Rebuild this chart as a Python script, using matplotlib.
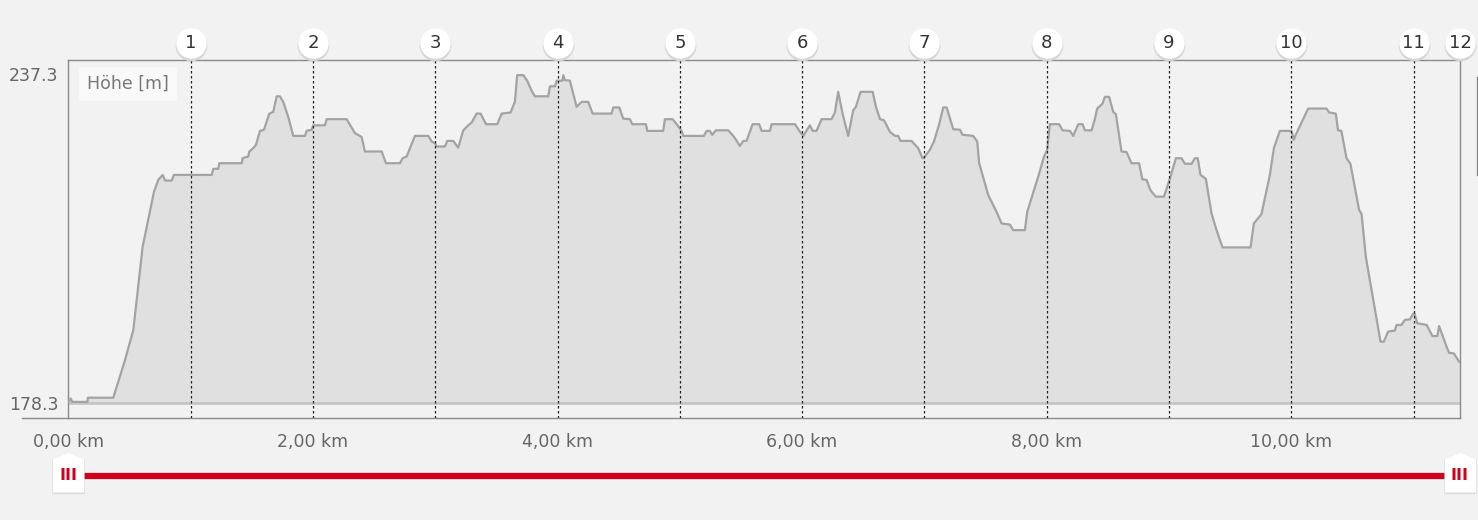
import numpy as np
import matplotlib
matplotlib.use("Agg")
import matplotlib.pyplot as plt
from matplotlib.path import Path
from matplotlib.lines import Line2D

# ── Elevation profile (distance in km, elevation in m) ─────────────────────────
dist_km = [
    0.00, 0.02, 0.03, 0.155, 0.16, 0.367, 0.463, 0.531, 0.607, 0.700, 0.735, 0.771,
    0.790, 0.845, 0.863, 1.172, 1.185, 1.226, 1.234, 1.417, 1.425, 1.471, 1.479,
    1.512, 1.534, 1.567, 1.599, 1.643, 1.675, 1.703, 1.730, 1.757, 1.798, 1.839,
    1.935, 1.948, 1.989, 2.003, 2.098, 2.112, 2.275, 2.343, 2.398, 2.425, 2.562,
    2.597, 2.711, 2.733, 2.766, 2.834, 2.943, 2.971, 2.998, 3.011, 3.079, 3.098,
    3.147, 3.188, 3.229, 3.270, 3.298, 3.338, 3.371, 3.415, 3.507, 3.543, 3.616,
    3.651, 3.670, 3.720, 3.752, 3.788, 3.815, 3.924, 3.938, 3.979, 3.993, 4.040,
    4.047, 4.060, 4.101, 4.156, 4.197, 4.251, 4.287, 4.442, 4.456, 4.505, 4.537,
    4.592, 4.611, 4.723, 4.734, 4.864, 4.878, 4.941, 4.974, 5.014, 5.028, 5.197,
    5.219, 5.245, 5.265, 5.295, 5.396, 5.437, 5.459, 5.491, 5.519, 5.546, 5.595,
    5.649, 5.669, 5.737, 5.751, 5.942, 5.977, 6.010, 6.037, 6.064, 6.086, 6.118,
    6.159, 6.241, 6.268, 6.295, 6.331, 6.377, 6.418, 6.440, 6.478, 6.577, 6.604,
    6.637, 6.670, 6.719, 6.760, 6.786, 6.805, 6.895, 6.949, 6.985, 7.004, 7.045,
    7.078, 7.121, 7.154, 7.182, 7.236, 7.291, 7.312, 7.399, 7.432, 7.448, 7.522,
    7.590, 7.631, 7.699, 7.726, 7.822, 7.841, 7.931, 7.977, 8.004, 8.026, 8.102,
    8.130, 8.190, 8.217, 8.258, 8.294, 8.312, 8.367, 8.394, 8.413, 8.457, 8.476,
    8.511, 8.544, 8.566, 8.612, 8.653, 8.694, 8.756, 8.783, 8.817, 8.850, 8.893,
    8.959, 9.013, 9.057, 9.103, 9.130, 9.185, 9.212, 9.235, 9.258, 9.302, 9.348,
    9.389, 9.438, 9.667, 9.694, 9.757, 9.825, 9.858, 9.907, 10.002, 10.021,
    10.035, 10.138, 10.288, 10.310, 10.364, 10.383, 10.410, 10.452, 10.484,
    10.555, 10.575, 10.610, 10.730, 10.757, 10.792, 10.847, 10.861, 10.902,
    10.929, 10.970, 10.997, 11.010, 11.030, 11.107, 11.155, 11.195, 11.209,
    11.270, 11.291, 11.330, 11.373,
]
elev_m = [
    178.5, 179.1, 178.5, 178.5, 179.25, 179.25, 186.0, 191.4, 206.3, 216.2, 218.3,
    219.2, 218.2, 218.2, 219.2, 219.2, 220.3, 220.3, 221.3, 221.3, 222.2, 222.5,
    223.4, 224.0, 224.6, 227.1, 227.3, 230.2, 230.5, 233.3, 233.3, 232.3, 229.6,
    226.2, 226.2, 227.1, 227.3, 228.1, 228.1, 229.2, 229.2, 226.7, 226.0, 223.4,
    223.4, 221.3, 221.3, 222.2, 222.5, 226.2, 226.2, 225.2, 224.9, 224.3, 224.3,
    225.3, 225.3, 224.1, 227.2, 228.1, 228.6, 230.2, 230.2, 228.3, 228.3, 230.2,
    230.4, 232.3, 237.1, 237.1, 236.1, 234.3, 233.3, 233.3, 235.1, 235.1, 236.1,
    236.1, 237.1, 236.2, 236.1, 231.4, 232.3, 232.3, 230.2, 230.2, 231.3, 231.3,
    229.3, 229.2, 228.3, 228.3, 227.1, 227.1, 229.2, 229.2, 228.3, 227.1, 226.2,
    226.2, 227.1, 227.1, 226.4, 227.2, 227.2, 226.2, 225.5, 224.4, 225.3, 225.3,
    228.3, 228.3, 227.1, 227.1, 228.3, 228.3, 227.1, 226.2, 227.2, 228.1, 227.1,
    227.1, 229.2, 229.2, 230.4, 234.1, 230.2, 226.2, 230.8, 231.4, 234.1, 234.1,
    231.4, 229.2, 229.0, 226.9, 226.2, 226.2, 225.3, 225.3, 224.0, 222.2, 222.5,
    223.7, 225.2, 228.3, 231.3, 231.3, 227.4, 227.3, 226.4, 226.2, 225.2, 221.3,
    215.6, 212.6, 210.5, 210.3, 209.3, 209.3, 212.6, 218.9, 222.4, 223.7, 228.3,
    228.3, 227.2, 227.1, 226.2, 228.3, 228.3, 227.2, 227.2, 229.2, 231.1, 232.0,
    233.2, 233.2, 230.5, 230.1, 223.4, 223.3, 221.3, 221.3, 218.4, 218.3, 216.4,
    215.3, 215.3, 218.9, 222.2, 222.2, 221.2, 221.2, 222.2, 222.2, 219.2, 218.5,
    212.3, 209.3, 206.2, 206.2, 210.5, 212.2, 219.2, 224.0, 227.1, 227.1, 225.5,
    226.3, 231.1, 231.1, 230.4, 230.2, 227.2, 227.1, 222.2, 221.2, 212.9, 212.2,
    204.5, 189.3, 189.3, 191.1, 191.3, 192.3, 192.3, 193.2, 193.3, 194.3, 194.3,
    192.6, 192.3, 190.3, 190.3, 192.1, 188.4, 187.3, 187.2, 185.7,
]

total_km = 11.38
y_min, y_max = 178.3, 237.3
marker_km = [1, 2, 3, 4, 5, 6, 7, 8, 9, 10, 11, total_km]
marker_labels = [str(i) for i in range(1, 13)]
xtick_km = [0, 2, 4, 6, 8, 10]
xtick_labels = ["0,00 km", "2,00 km", "4,00 km", "6,00 km", "8,00 km", "10,00 km"]

# ── Figure ───────────────────────────────────────────────────────────────────
W, H = 1478, 520
bg = "#f2f2f2"
fig = plt.figure(figsize=(W / 100, H / 100), dpi=100, facecolor=bg)

ax_l, ax_r, ax_t, ax_b = 68.4, 1460, 60, 418
ax = fig.add_axes([ax_l / W, 1 - ax_b / H, (ax_r - ax_l) / W, (ax_b - ax_t) / H])
ax.set_facecolor(bg)

# pixel 403 -> 178.3 m, pixel 74 -> 237.3 m
m_per_px = (y_max - y_min) / (403 - 74)
ax.set_ylim(y_min - (ax_b - 403) * m_per_px, y_min + (403 - ax_t) * m_per_px)
ax.set_xlim(0, total_km)

ax.fill_between(dist_km, elev_m, y_min, color="#e0e0e0", lw=0, zorder=1)
ax.plot(dist_km, elev_m, color="#a3a3a3", lw=1.6, zorder=3)
ax.axhline(y_min, color="#c6c6c6", lw=2, zorder=2)

for km in marker_km[:-1]:
    ax.axvline(km, color="#222222", lw=0.9, ls=(0, (2, 2)), zorder=4)

for side in ["left", "top", "right", "bottom"]:
    ax.spines[side].set_color("#8a8a8a")
    ax.spines[side].set_linewidth(1)

ax.set_yticks([y_min, y_max])
ax.set_yticklabels([f"{y_min:.1f}", f"{y_max:.1f}"])
ax.set_xticks(xtick_km)
ax.set_xticklabels(xtick_labels)
ax.tick_params(axis="both", length=0, colors="#666666", labelsize=12.5)
ax.tick_params(axis="y", pad=7)
ax.tick_params(axis="x", pad=11)

# bottom axis line extends left beyond the plot area
fig.add_artist(Line2D([22 / W, ax_l / W], [1 - ax_b / H, 1 - ax_b / H],
                      color="#8a8a8a", lw=1))

ax.text(0.0135, 0.958, "Höhe [m]", transform=ax.transAxes, ha="left", va="top",
        fontsize=12.5, color="#777777", zorder=6,
        bbox=dict(boxstyle="square,pad=0.45", fc="#f9f9f9", ec="none"))

# numbered km markers above the plot
trans = ax.get_xaxis_transform()
y_circ = (ax_b - 43) / (ax_b - ax_t)
ax.scatter(marker_km, [y_circ - 0.006] * len(marker_km), s=520, color="#d6d6d6",
           transform=trans, clip_on=False, zorder=7, lw=0)
ax.scatter(marker_km, [y_circ] * len(marker_km), s=480, color="white",
           transform=trans, clip_on=False, zorder=8, lw=0)
for km, lab in zip(marker_km, marker_labels):
    ax.text(km, y_circ, lab, transform=trans, ha="center", va="center",
            fontsize=13, color="#333333", clip_on=False, zorder=9)

# ── Range slider below the chart ─────────────────────────────────────────────
sl = fig.add_axes([ax_l / W, 1 - 500 / H, (ax_r - ax_l) / W, 50 / H])
sl.set_xlim(0, total_km)
sl.set_ylim(-1, 1)
sl.axis("off")
y_line = 1 - 2 * (476 - 450) / 50
sl.plot([0, total_km], [y_line, y_line], color="#d0021b", lw=4.5,
        solid_capstyle="butt", zorder=1)

house = Path([(-15.5, -16), (15.5, -16), (15.5, 17), (0, 24), (-15.5, 17), (-15.5, -16)],
             [Path.MOVETO, Path.LINETO, Path.LINETO, Path.LINETO, Path.LINETO,
              Path.CLOSEPOLY])
for km in [0, total_km]:
    sl.plot([km], [y_line - 0.04], marker=house, ms=36, color="#dcdcdc", mew=0,
            clip_on=False, zorder=2)
    sl.plot([km], [y_line], marker=house, ms=34.6, color="white", mew=0,
            clip_on=False, zorder=3)
    sl.text(km, y_line, "III", ha="center", va="center", fontsize=11.5,
            fontweight="bold", color="#d0021b", clip_on=False, zorder=4)

# partially visible element at the right edge
fig.add_artist(Line2D([1477 / W, 1477 / W], [1 - 77 / H, 1 - 175 / H],
                      color="#888888", lw=1))

fig.savefig("out.png", dpi=100, facecolor=bg)
